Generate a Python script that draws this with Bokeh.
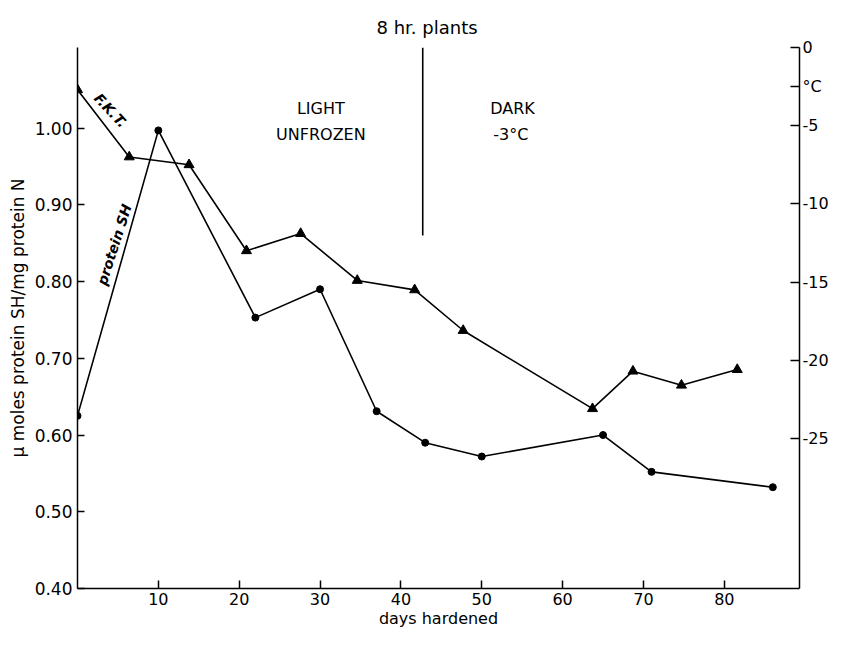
from bokeh.plotting import figure
from bokeh.models import Range1d, LinearAxis, FixedTicker, Label, Title
from bokeh.embed import file_html
from bokeh.resources import INLINE

# ---- data ----
sh_days = [0, 10, 22, 30, 37, 43, 50, 65, 71, 86]
sh_values = [0.625, 0.997, 0.753, 0.790, 0.631, 0.590, 0.572, 0.600, 0.552, 0.532]

fkt_days = [0, 6.4, 13.8, 20.9, 27.6, 34.6, 41.7, 47.7, 63.7, 68.7, 74.7, 81.6]
fkt_temps = [-2.7, -7.0, -7.5, -13.0, -11.9, -14.9, -15.5, -18.1, -23.1, -20.7, -21.6, -20.6]

x_ticks = [10, 20, 30, 40, 50, 60, 70, 80]
left_ticks = [0.40, 0.50, 0.60, 0.70, 0.80, 0.90, 1.00]
left_labels = ["0.40", "0.50", "0.60", "0.70", "0.80", "0.90", "1.00"]
right_ticks = [0.0, -2.5, -5.0, -10.0, -15.0, -20.0, -25.0]
right_labels = ["0", "°C", "-5", "-10", "-15", "-20", "-25"]

divider_day = 42.7
divider_bottom = 0.86

FONT = "DejaVu Sans"

p = figure(width=831, height=630, output_backend="svg", toolbar_location=None,
           x_range=Range1d(0, 89.3), y_range=Range1d(0.40, 1.105),
           min_border_left=77, min_border_right=28, min_border_top=47,
           min_border_bottom=40)
p.extra_y_ranges = {"temp": Range1d(-34.6, 0)}
p.grid.visible = False
p.outline_line_color = None
p.background_fill_color = "white"
p.border_fill_color = "white"

t = Title(text="8 hr. plants", align="left", offset=299, standoff=20,
          text_font=FONT, text_font_size="18px", text_font_style="normal",
          text_color="black")
p.add_layout(t, "above")

# bottom axis
xa = p.xaxis[0]
xa.ticker = FixedTicker(ticks=x_ticks)
xa.minor_tick_line_color = None
xa.major_tick_in = 8
xa.major_tick_out = 0
xa.axis_label = "days hardened"
xa.axis_label_standoff = 1
xa.major_label_standoff = 4

# left axis
ya = p.yaxis[0]
ya.ticker = FixedTicker(ticks=left_ticks)
ya.major_label_overrides = {float(t): l for t, l in zip(left_ticks, left_labels)}
ya.minor_tick_line_color = None
ya.major_tick_in = 7
ya.major_tick_out = 0
ya.axis_label = "μ moles protein SH/mg protein N"
ya.axis_label_standoff = 4
ya.major_label_standoff = 5

# right axis
ra = LinearAxis(y_range_name="temp", ticker=FixedTicker(ticks=right_ticks))
ra.major_label_overrides = {float(t): l for t, l in zip(right_ticks, right_labels)}
ra.minor_tick_line_color = None
ra.major_tick_in = 9
ra.major_tick_out = 0
ra.major_label_standoff = 3
p.add_layout(ra, "right")

for ax in (xa, ya, ra):
    ax.axis_line_color = "black"
    ax.axis_line_width = 1.5
    ax.major_tick_line_color = "black"
    ax.major_tick_line_width = 1.5
    ax.major_label_text_font = FONT
    ax.major_label_text_font_size = "17px"
    ax.major_label_text_color = "black"
    ax.axis_label_text_font = FONT
    ax.axis_label_text_font_size = "17px"
    ax.axis_label_text_font_style = "normal"
    ax.axis_label_text_color = "black"
ra.major_label_text_font_size = "16px"
xa.major_label_text_font_size = "16px"
xa.axis_label_text_font_size = "16px"

# protein SH series
p.line(sh_days, sh_values, line_color="black", line_width=1.6)
p.scatter(sh_days, sh_values, marker="circle", size=7, fill_color="black", line_color="black")

# F.K.T. series
p.line(fkt_days, fkt_temps, y_range_name="temp", line_color="black", line_width=1.6)
p.scatter(fkt_days, fkt_temps, y_range_name="temp", marker="triangle", size=10,
          fill_color="black", line_color="black")

# divider
p.segment(x0=[divider_day], y0=[divider_bottom], x1=[divider_day], y1=[1.105],
          line_color="black", line_width=1.6)

def add_label(x, y, text, size="17px", style="normal", angle=0.0):
    lab = Label(x=x, y=y, text=text, text_font=FONT, text_font_size=size,
                text_font_style=style, text_color="black", text_align="center",
                text_baseline="middle", angle=angle)
    p.add_layout(lab)

add_label(30.1, 1.0255, "LIGHT", size="16px")
add_label(30.1, 0.991, "UNFROZEN", size="16px")
add_label(53.8, 1.0255, "DARK", size="16px")
add_label(53.6, 0.991, "-3°C", size="16px")
add_label(4.1, 1.023, "F.K.T.", size="14px", style="bold italic", angle=-0.82)
add_label(4.55, 0.848, "protein SH", size="14px", style="bold italic", angle=1.26)

open("out.html", "w").write(file_html(p, INLINE))
